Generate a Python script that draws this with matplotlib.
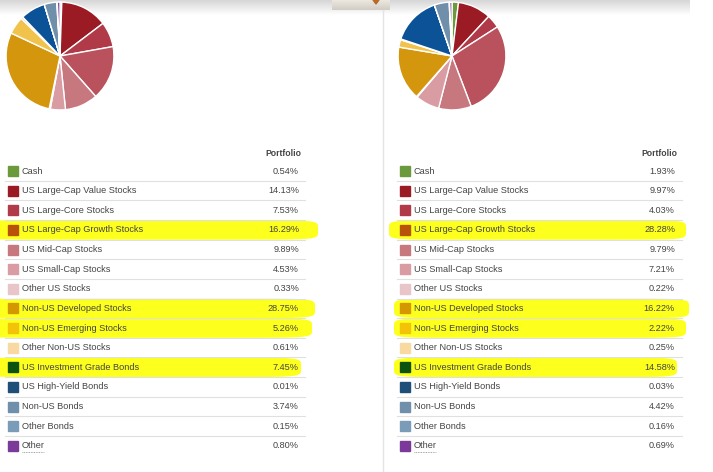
import numpy as np
import matplotlib.pyplot as plt
from matplotlib.patches import Rectangle, Polygon
from matplotlib.colors import to_rgb

plt.rcParams['font.family'] = ['Liberation Sans', 'DejaVu Sans']

categories = ['Cash', 'US Large-Cap Value Stocks', 'US Large-Core Stocks',
              'US Large-Cap Growth Stocks', 'US Mid-Cap Stocks', 'US Small-Cap Stocks',
              'Other US Stocks', 'Non-US Developed Stocks', 'Non-US Emerging Stocks',
              'Other Non-US Stocks', 'US Investment Grade Bonds', 'US High-Yield Bonds',
              'Non-US Bonds', 'Other Bonds', 'Other']
left_values = [0.54, 14.13, 7.53, 16.29, 9.89, 4.53, 0.33, 28.75, 5.26, 0.61,
               7.45, 0.01, 3.74, 0.15, 0.80]
right_values = [1.93, 9.97, 4.03, 28.28, 9.79, 7.21, 0.22, 16.22, 2.22, 0.25,
                14.58, 0.03, 4.42, 0.16, 0.69]
highlighted = ['US Large-Cap Growth Stocks', 'Non-US Developed Stocks',
               'Non-US Emerging Stocks', 'US Investment Grade Bonds']

colors = ['#6b9a3c', '#9a1b24', '#b03a48', '#b9525c', '#c7787f', '#d89ca2',
          '#e8c5c9', '#d4960c', '#f2c34c', '#f8d9a2', '#0b5396', '#1f4e79',
          '#6f8fab', '#7a9cb9', '#7b3a9a']

W, H = 713, 472
fig = plt.figure(figsize=(W / 100, H / 100), dpi=100)
bg = fig.add_axes([0, 0, 1, 1])
bg.set_xlim(0, W)
bg.set_ylim(H, 0)
bg.axis('off')

# grey shading along the top edge
grad = np.linspace(0.84, 1.0, 50).reshape(-1, 1)
bg.imshow(np.dstack([grad, grad, grad]), extent=(0, 690, 15, 0), aspect='auto', zorder=0)
tab = np.linspace(0.93, 0.82, 20).reshape(-1, 1)
bg.imshow(np.dstack([tab, tab * 0.98, tab * 0.94]), extent=(332, 390, 10, 0),
          aspect='auto', zorder=1)
bg.add_patch(Polygon([(373, 0), (379, 0), (376, 4)], closed=True, color='#b86a2a', zorder=2))

# divider between the two panels
bg.plot([383, 383], [10, H], color='#e4e4e4', lw=1, zorder=1)


def marker_stroke(x0, x1, yc, h):
    # highlighter stroke: flat band with rounded ends
    t = np.linspace(0, 2 * np.pi, 200)
    ct, st = np.cos(t), np.sin(t)
    xs = (x0 + x1) / 2 + (x1 - x0) / 2 * np.sign(ct) * np.abs(ct) ** (1 / 6)
    ys = yc + h * np.sign(st) * np.abs(st) ** (1 / 3)
    return Polygon(np.column_stack([xs, ys]), closed=True, color='#fdff1c', lw=0, zorder=2)


row_y0, row_step = 171, 19.63
panels = [
    dict(values=left_values, sq=8, txt=22, val=299, line=(5, 305), pie_cx=60,
         marks=[(-20, 318), (-20, 315), (-20, 312), (-20, 301)]),
    dict(values=right_values, sq=400, txt=414, val=675, line=(397, 682), pie_cx=452,
         marks=[(389, 686), (394, 689), (394, 686), (394, 677)]),
]

for p in panels:
    # pie chart, clockwise from 12 o'clock
    r = 55
    pax = fig.add_axes([(p['pie_cx'] - r) / W, (H - 56 - r) / H, 2 * r / W, 2 * r / H])
    pax.pie(p['values'], colors=colors, startangle=90, counterclock=False,
            wedgeprops=dict(edgecolor='white', linewidth=1))
    pax.set_xlim(-1.02, 1.02)
    pax.set_ylim(-1.02, 1.02)
    pax.set_aspect('auto')
    pax.axis('off')

    bg.text(p['val'] + 2, 153, 'Portfolio', ha='right', va='center', fontsize=6.2,
            fontweight='bold', color='#444444', zorder=5)

    k = 0
    for i, (cat, v) in enumerate(zip(categories, p['values'])):
        y = row_y0 + i * row_step
        c = np.array(to_rgb(colors[i]))
        if cat in highlighted:
            x0, x1 = p['marks'][k]
            k += 1
            bg.add_patch(marker_stroke(x0, x1, y, 9.8))
            c = c * np.array([1.0, 1.0, 0.1])
        bg.add_patch(Rectangle((p['sq'], y - 5), 10, 10, color=c, zorder=4))
        bg.text(p['txt'], y, cat, ha='left', va='center', fontsize=6.6, color='#444444', zorder=5)
        bg.text(p['val'], y, f'{v:.2f}%', ha='right', va='center', fontsize=6.6,
                color='#444444', zorder=5)
        if i < len(categories) - 1:
            bg.plot(p['line'], [y + row_step / 2] * 2, color='#e0e0e0', lw=0.8, zorder=3)
    # dotted underline under "Other"
    y_last = row_y0 + (len(categories) - 1) * row_step
    bg.plot([p['txt'], p['txt'] + 22], [y_last + 6.5, y_last + 6.5], color='#888888', lw=0.6,
            ls=(0, (1, 1)), zorder=5)

fig.savefig('out.png', dpi=100)
